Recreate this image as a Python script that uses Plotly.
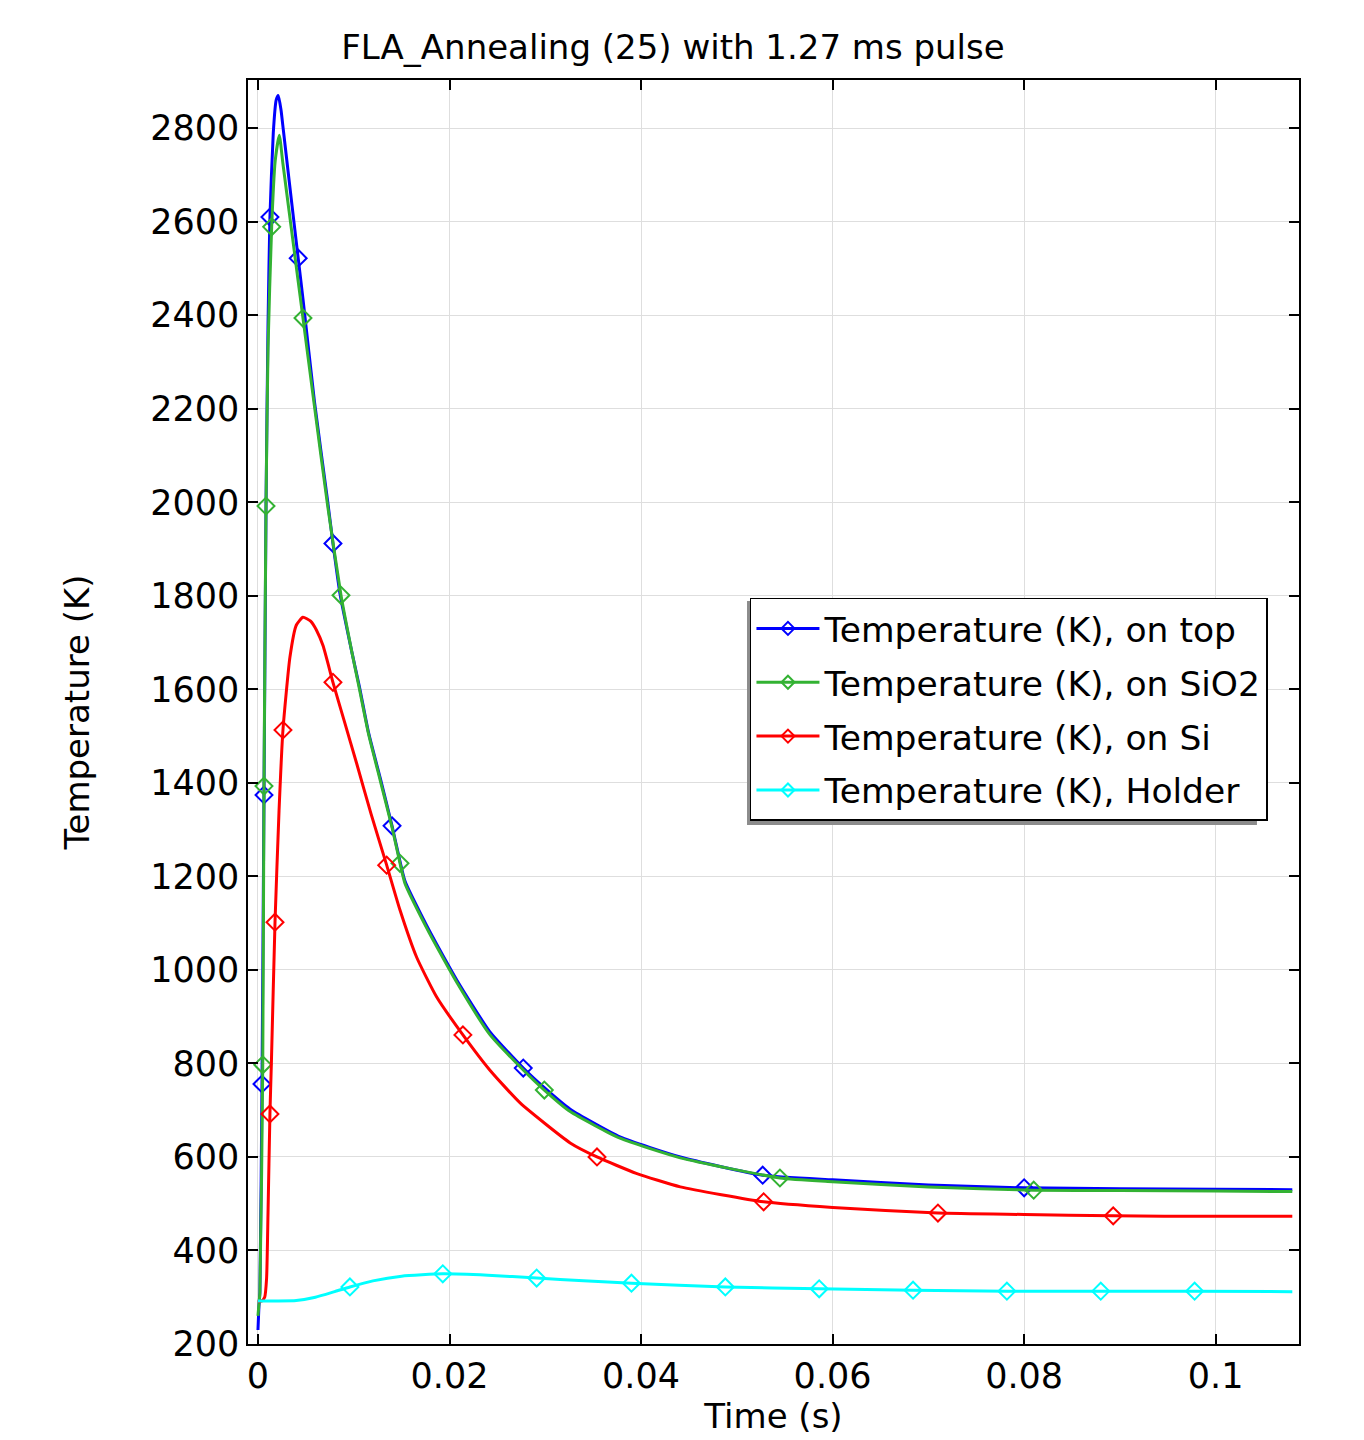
import plotly.graph_objects as go

# ---------------- data ----------------
top_t = [0, 0.0001, 0.0002, 0.00042, 0.00063, 0.00084, 0.00105, 0.00125, 0.0016, 0.0019,
         0.00212, 0.0024, 0.00265, 0.0033, 0.0042, 0.0047, 0.0059, 0.00726, 0.00783, 0.00856,
         0.0098, 0.0106, 0.01154, 0.01277, 0.0140, 0.01483, 0.01535, 0.01761, 0.01866, 0.0208,
         0.0242, 0.0277, 0.0299, 0.0326, 0.0378, 0.0441, 0.0527, 0.060, 0.070, 0.080,
         0.090, 0.100, 0.108]
top_T = [230, 280, 310, 756, 1374, 1990, 2380, 2610, 2790, 2860,
         2870, 2840, 2796, 2680, 2522, 2435, 2215, 2005, 1912, 1805,
         1680, 1605, 1508, 1410, 1308, 1232, 1190, 1095, 1055, 977,
         868, 790, 748, 702, 643, 600, 561, 551, 540, 534,
         532, 531, 530]
top_mark_t = [0.00042, 0.00063, 0.00125, 0.0042, 0.00783, 0.0140, 0.0277, 0.0527, 0.080]
top_mark_T = [756, 1374, 2610, 2522, 1912, 1308, 790, 561, 534]

sio2_t = [0, 0.0001, 0.0002, 0.0005, 0.00063, 0.00084, 0.00105, 0.00143, 0.0018, 0.00223,
          0.0026, 0.0030, 0.0035, 0.0041, 0.0047, 0.0059, 0.00726, 0.00867, 0.0098, 0.0106,
          0.01154, 0.01277, 0.0140, 0.01483, 0.01535, 0.01761, 0.01866, 0.0208, 0.0242, 0.0277,
          0.0299, 0.0326, 0.0378, 0.0441, 0.0545, 0.060, 0.070, 0.081, 0.090, 0.100,
          0.108]
sio2_T = [260, 285, 310, 797, 1393, 1992, 2330, 2589, 2730, 2785,
          2725, 2662, 2583, 2488, 2394, 2205, 1995, 1801, 1680, 1600,
          1505, 1405, 1305, 1228, 1185, 1090, 1050, 972, 862, 786,
          743, 697, 640, 598, 555, 547, 536, 529, 528, 527,
          526]
sio2_mark_t = [0.0005, 0.00063, 0.00084, 0.00143, 0.0047, 0.00867, 0.01483, 0.0299, 0.0545, 0.081]
sio2_mark_T = [797, 1393, 1992, 2589, 2394, 1801, 1228, 743, 555, 529]

si_t = [0, 0.0002, 0.0004, 0.0007, 0.0009, 0.00105, 0.00125, 0.0014, 0.00178, 0.0022,
        0.00261, 0.00334, 0.0040, 0.0047, 0.0055, 0.0061, 0.0068, 0.00783, 0.0090, 0.0103,
        0.0118, 0.01344, 0.01483, 0.01657, 0.01866, 0.0214, 0.0242, 0.0274, 0.0326, 0.0354,
        0.0395, 0.0441, 0.0528, 0.060, 0.071, 0.080, 0.0893, 0.100, 0.108]
si_T = [290, 291, 292, 300, 340, 480, 692, 800, 1102, 1340,
        1513, 1669, 1737, 1754, 1746, 1727, 1693, 1615, 1533, 1442,
        1334, 1224, 1128, 1027, 942, 861, 786, 715, 630, 600,
        565, 536, 504, 492, 480, 477, 474, 473, 473]
si_mark_t = [0.00125, 0.00178, 0.00261, 0.00783, 0.01344, 0.0214, 0.0354, 0.0528, 0.071, 0.0893]
si_mark_T = [692, 1102, 1513, 1615, 1224, 861, 600, 504, 480, 474]

holder_t = [0, 0.002, 0.004, 0.006, 0.008, 0.0096, 0.012, 0.015, 0.0193, 0.024,
            0.0291, 0.034, 0.039, 0.0488, 0.0586, 0.0684, 0.0782, 0.088, 0.0978, 0.108]
holder_T = [292, 292, 293, 300, 312, 322, 335, 345, 350, 347,
            341, 335, 330, 322, 318, 315, 313, 313, 313, 312]
holder_mark_t = [0.0096, 0.0193, 0.0291, 0.039, 0.0488, 0.0586, 0.0684, 0.0782, 0.088, 0.0978]
holder_mark_T = [322, 350, 341, 330, 322, 318, 315, 313, 313, 313]

names = ["Temperature (K), on top", "Temperature (K), on SiO2",
         "Temperature (K), on Si", "Temperature (K), Holder"]
colors = ["#0000ff", "#33b233", "#ff0000", "#00ffff"]

title_text = "FLA_Annealing (25) with 1.27 ms pulse"
x_title = "Time (s)"
y_title = "Temperature (K)"
x_tickvals = [0, 0.02, 0.04, 0.06, 0.08, 0.1]
x_ticktext = ["0", "0.02", "0.04", "0.06", "0.08", "0.1"]
y_tickvals = [200, 400, 600, 800, 1000, 1200, 1400, 1600, 1800, 2000, 2200, 2400, 2600, 2800]

# ---------------- figure ----------------
FONT = "DejaVu Sans"
fig = go.Figure()

series = [
    (top_t, top_T, top_mark_t, top_mark_T),
    (sio2_t, sio2_T, sio2_mark_t, sio2_mark_T),
    (si_t, si_T, si_mark_t, si_mark_T),
    (holder_t, holder_T, holder_mark_t, holder_mark_T),
]

for i, (t, T, mt, mT) in enumerate(series):
    fig.add_trace(go.Scatter(x=t, y=T, mode="lines", showlegend=False,
                             legendgroup=f"g{i}",
                             line=dict(color=colors[i], width=3, shape="spline", smoothing=0.5),
                             hoverinfo="skip"))
    fig.add_trace(go.Scatter(x=mt, y=mT, mode="markers", showlegend=False,
                             legendgroup=f"g{i}",
                             marker=dict(symbol="diamond-open", size=13, color=colors[i],
                                         line=dict(width=2, color=colors[i]))))
    # legend entry
    fig.add_trace(go.Scatter(x=[None], y=[None], mode="lines+markers", name=names[i],
                             legendgroup=f"g{i}",
                             line=dict(color=colors[i], width=3),
                             marker=dict(symbol="diamond-open", size=10, color=colors[i],
                                         line=dict(width=2, color=colors[i]))))

axis_common = dict(showline=True, linecolor="black", linewidth=1.5, mirror="ticks",
                   ticks="inside", ticklen=10, tickwidth=1.5, tickcolor="black",
                   showgrid=True, gridcolor="#dedede", gridwidth=1, zeroline=False,
                   tickfont=dict(family=FONT, size=35, color="black"))

fig.update_xaxes(range=[-0.00104, 0.1087], tickvals=x_tickvals, ticktext=x_ticktext,
                 title=dict(text=x_title, font=dict(family=FONT, size=34, color="black"),
                            standoff=5),
                 **axis_common)
fig.update_yaxes(range=[200, 2903], tickvals=y_tickvals,
                 title=dict(text=y_title, font=dict(family=FONT, size=34, color="black"),
                            standoff=50),
                 **axis_common)

# legend drop shadow (offset to lower-left)
fig.add_shape(type="rect", xref="paper", yref="paper",
              x0=0.4748, x1=0.960, y0=0.4106, y1=0.5878,
              fillcolor="#8c8c8c", line=dict(width=0), layer="above")

fig.update_layout(
    width=1364, height=1440,
    margin=dict(l=240, r=73, t=72, b=104),
    paper_bgcolor="white", plot_bgcolor="white",
    font=dict(family=FONT, size=34, color="black"),
    title=dict(text=title_text, x=665 / 1364, xanchor="center", xref="container",
               y=1 - 39 / 1440, yanchor="middle", yref="container",
               font=dict(family=FONT, size=34, color="black")),
    legend=dict(x=0.4776, y=0.5902, xanchor="left", yanchor="top",
                bgcolor="white", bordercolor="black", borderwidth=1.5,
                font=dict(family=FONT, size=34.5, color="black"),
                tracegroupgap=6, itemwidth=63),
    showlegend=True,
)

fig.write_html("out.html")
